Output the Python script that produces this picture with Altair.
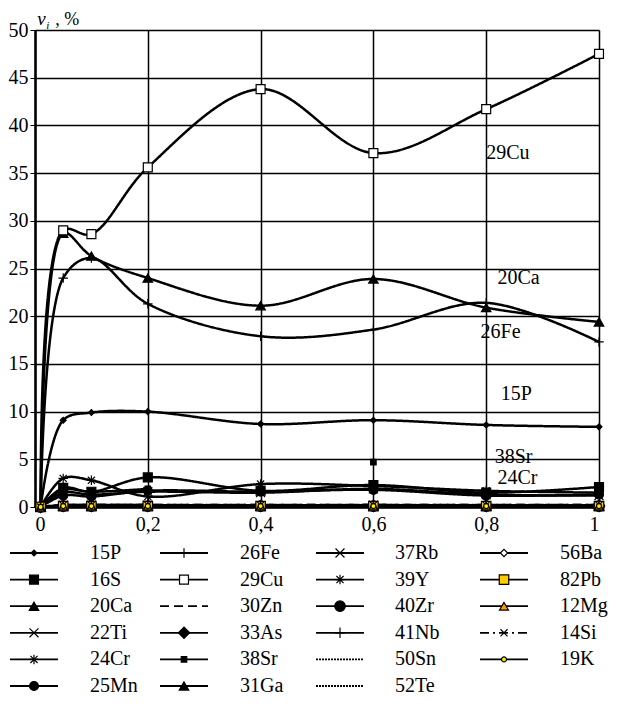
import altair as alt
import pandas as pd

# ---------------- data ----------------
x_vals = [0.01, 0.05, 0.1, 0.2, 0.4, 0.6, 0.8, 1.0]

series_names = ["15P", "16S", "20Ca", "22Ti", "24Cr", "25Mn",
                "26Fe", "29Cu", "30Zn", "33As", "38Sr", "31Ga",
                "37Rb", "39Y", "40Zr", "41Nb", "50Sn", "52Te",
                "56Ba", "82Pb", "12Mg", "14Si", "19K"]

v_15P = [0, 9.1, 9.9, 10.0, 8.7, 9.1, 8.6, 8.4]
v_16S = [0, 2.0, 1.6, 3.1, 1.7, 2.3, 1.5, 2.1]
v_20Ca = [0, 28.7, 26.3, 24.0, 21.1, 23.9, 20.9, 19.4]
v_22Ti = [0, 1.5, 1.3, 1.6, 1.5, 1.9, 1.3, 1.2]
v_24Cr = [0, 3.0, 2.8, 1.1, 2.4, 2.2, 1.7, 1.5]
v_25Mn = [0, 1.2, 1.1, 1.7, 1.6, 1.8, 1.2, 1.3]
v_26Fe = [0, 24.0, 26.1, 21.3, 17.9, 18.6, 21.4, 17.3]
v_29Cu = [0, 29.0, 28.6, 35.6, 43.8, 37.1, 41.7, 47.5]
v_30Zn = [0, 0.2, 0.2, 0.2, 0.2, 0.2, 0.2, 0.2]
v_33As = [0, 0.1, 0.1, 0.1, 0.1, 0.1, 0.1, 0.1]
v_38Sr = [0, 1.8, 1.6, 1.9, None, 4.7, None, 1.9]
v_31Ga = [0, 0.1, 0.1, 0.1, 0.1, 0.1, 0.1, 0.1]
v_37Rb = [0, 0.2, 0.2, 0.2, 0.1, 0.2, 0.1, 0.1]
v_39Y = [0, 0.1, 0.1, 0.1, 0.1, 0.1, 0.1, 0.1]
v_40Zr = [0, 0.1, 0.1, 0.1, 0.1, 0.1, 0.1, 0.1]
v_41Nb = [0, 0.1, 0.1, 0.1, 0.1, 0.1, 0.1, 0.1]
v_50Sn = [0, 0.1, 0.1, 0.1, 0.1, 0.1, 0.1, 0.1]
v_52Te = [0, 0.1, 0.1, 0.1, 0.1, 0.1, 0.1, 0.1]
v_56Ba = [0, 0.1, 0.1, 0.1, 0.1, 0.1, 0.1, 0.1]
v_82Pb = [0, 0.1, 0.1, 0.1, 0.1, 0.1, 0.1, 0.1]
v_12Mg = [0, 0.1, 0.1, 0.1, 0.1, 0.1, 0.1, 0.1]
v_14Si = [0, 0.2, 0.2, 0.2, 0.2, 0.2, 0.2, 0.2]
v_19K = [0, 0.1, 0.1, 0.1, 0.1, 0.1, 0.1, 0.1]

all_values = [v_15P, v_16S, v_20Ca, v_22Ti, v_24Cr, v_25Mn,
              v_26Fe, v_29Cu, v_30Zn, v_33As, v_38Sr, v_31Ga,
              v_37Rb, v_39Y, v_40Zr, v_41Nb, v_50Sn, v_52Te,
              v_56Ba, v_82Pb, v_12Mg, v_14Si, v_19K]

label_text = ["29Cu", "20Ca", "26Fe", "15P", "38Sr", "24Cr"]
label_x = [0.80, 0.82, 0.79, 0.826, 0.815, 0.82]
label_y = [37.1, 24.0, 18.3, 11.8, 5.2, 3.0]

x_ticks = [0, 0.2, 0.4, 0.6, 0.8, 1]
y_ticks = [0, 5, 10, 15, 20, 25, 30, 35, 40, 45, 50]

# ---------------- styles ----------------
PLUS = "M-1,0H1M0,-1V1"
XS = "M-1,-1L1,1M-1,1L1,-1"
AST = "M-1,0H1M0,-1V1M-0.75,-0.75L0.75,0.75M-0.75,0.75L0.75,-0.75"

shape_r = ["diamond", "square", "triangle-up", XS, AST, "circle",
           PLUS, "square", "circle", "diamond", "square", "triangle-up",
           XS, AST, "circle", PLUS, "circle", "circle",
           "diamond", "square", "triangle-up", XS, "circle"]
fill_r = ["black", "black", "black", "black", "black", "black",
          "black", "white", "black", "black", "black", "black",
          "black", "black", "black", "black", "black", "black",
          "white", "#FFCC00", "#FF9900", "black", "#FFEE00"]
size_r = [35, 80, 90, 80, 90, 80,
          90, 80, 0, 130, 30, 90,
          80, 90, 110, 110, 0, 0,
          55, 90, 80, 50, 25]
dash_r = [[1, 0]] * 8 + [[9, 5]] + [[1, 0]] * 7 + [[2, 1], [2, 1]] + [[1, 0]] * 3 + [[9, 4, 2, 4]] + [[1, 0]]

FONT = "Liberation Serif"
PLOT_W = 564
PLOT_H = 477

rows = []
for name, vals in zip(series_names, all_values):
    for xv, yv in zip(x_vals, vals):
        rows.append({"series": name, "x": xv, "v": yv})
df = pd.DataFrame(rows)

xscale = alt.Scale(domain=[0, 1], nice=False, zero=False)
yscale = alt.Scale(domain=[0, 50], nice=False)

shape_enc = alt.Shape("series:N", scale=alt.Scale(domain=series_names, range=shape_r), legend=None)
fill_enc = alt.Fill("series:N", scale=alt.Scale(domain=series_names, range=fill_r), legend=None)
size_enc = alt.Size("series:N", scale=alt.Scale(domain=series_names, range=size_r, type="ordinal"), legend=None)
dash_enc = alt.StrokeDash("series:N", scale=alt.Scale(domain=series_names, range=dash_r), legend=None)

base = alt.Chart(df)

lines = base.mark_line(interpolate="catmull-rom", strokeWidth=2.5, color="black").encode(
    x=alt.X("x:Q", scale=xscale,
            axis=alt.Axis(values=x_ticks, format="~g", labelExpr="replace(datum.label, '.', ',')",
                          title=None, tickSize=4, labelPadding=3, domainWidth=2.5)),
    y=alt.Y("v:Q", scale=yscale,
            axis=alt.Axis(values=y_ticks, title=None, tickSize=5, labelPadding=2, domainWidth=2.5)),
    detail="series:N",
    strokeDash=dash_enc,
    order=alt.Order("x:Q"),
)

points = base.mark_point(filled=False, stroke="black", strokeWidth=1.2, opacity=1).encode(
    x=alt.X("x:Q", scale=xscale),
    y=alt.Y("v:Q", scale=yscale),
    shape=shape_enc,
    fill=fill_enc,
    size=size_enc,
)

lab_df = pd.DataFrame({"t": label_text, "x": label_x, "v": label_y})
labels = alt.Chart(lab_df).mark_text(font=FONT, fontSize=20, align="left", baseline="middle", color="black").encode(
    x=alt.X("x:Q", scale=xscale), y=alt.Y("v:Q", scale=yscale), text="t:N")

title_df = pd.DataFrame({"t": ["v", "i", ", %"], "x": [0.004, 0.02, 0.036], "v": [50.52, 50.1, 50.52]})
title_v = alt.Chart(title_df.iloc[[0]]).mark_text(font=FONT, fontSize=19, fontStyle="italic", align="left",
                                                 baseline="alphabetic", color="black").encode(
    x=alt.X("x:Q", scale=xscale), y=alt.Y("v:Q", scale=yscale), text="t:N")
title_i = alt.Chart(title_df.iloc[[1]]).mark_text(font=FONT, fontSize=11, fontStyle="italic", align="left",
                                                 baseline="alphabetic", color="black").encode(
    x=alt.X("x:Q", scale=xscale), y=alt.Y("v:Q", scale=yscale), text="t:N")
title_p = alt.Chart(title_df.iloc[[2]]).mark_text(font=FONT, fontSize=18, align="left",
                                                 baseline="alphabetic", color="black").encode(
    x=alt.X("x:Q", scale=xscale), y=alt.Y("v:Q", scale=yscale), text="t:N")

main = alt.layer(lines, points, labels, title_v, title_i, title_p).properties(width=PLOT_W, height=PLOT_H)

# ---------------- legend panel (coordinates relative to plot origin) ----------------
col_line_x = [-25, 125, 281, 445]
col_text_x = [55, 205, 360, 525]
LINE_LEN = 48
ROW_TOP = 19.0
ROW_STEP = 26.6
LEG_H = 152
leg_rows = []
for i, name in enumerate(series_names):
    c, r = i // 6, i % 6
    leg_rows.append({"series": name, "r": r, "x1": col_line_x[c], "x2": col_line_x[c] + LINE_LEN,
                     "xm": col_line_x[c] + LINE_LEN / 2, "xt": col_text_x[c]})
leg_df = pd.DataFrame(leg_rows)
lx = alt.Scale(domain=[0, PLOT_W], nice=False, zero=False)
ly = alt.Scale(domain=[-ROW_TOP / ROW_STEP, (LEG_H - ROW_TOP) / ROW_STEP], nice=False, zero=False, reverse=True)
lbase = alt.Chart(leg_df)
leg_lines = lbase.mark_rule(strokeWidth=1.8, color="black").encode(
    x=alt.X("x1:Q", scale=lx, axis=None), x2="x2:Q",
    y=alt.Y("r:Q", scale=ly, axis=None), strokeDash=dash_enc)
leg_pts = lbase.mark_point(filled=False, stroke="black", strokeWidth=1.2, opacity=1).encode(
    x=alt.X("xm:Q", scale=lx, axis=None), y=alt.Y("r:Q", scale=ly, axis=None),
    shape=shape_enc, fill=fill_enc, size=size_enc)
leg_txt = lbase.mark_text(font=FONT, fontSize=20, align="left", baseline="middle", color="black").encode(
    x=alt.X("xt:Q", scale=lx, axis=None), y=alt.Y("r:Q", scale=ly, axis=None), text="series:N")
legend = alt.layer(leg_lines, leg_pts, leg_txt).properties(width=PLOT_W, height=LEG_H)

chart = alt.vconcat(main, legend, spacing=0).configure_view(stroke=None).configure_axis(
    labelFont=FONT, labelFontSize=20, labelColor="black", gridColor="black", gridWidth=1.5,
    domainColor="black", tickColor="black", gridOpacity=1
).properties(padding={"left": 0, "top": 2, "right": 0, "bottom": 0})

chart.save("out.html", embed_options={"renderer": "svg", "actions": False})
